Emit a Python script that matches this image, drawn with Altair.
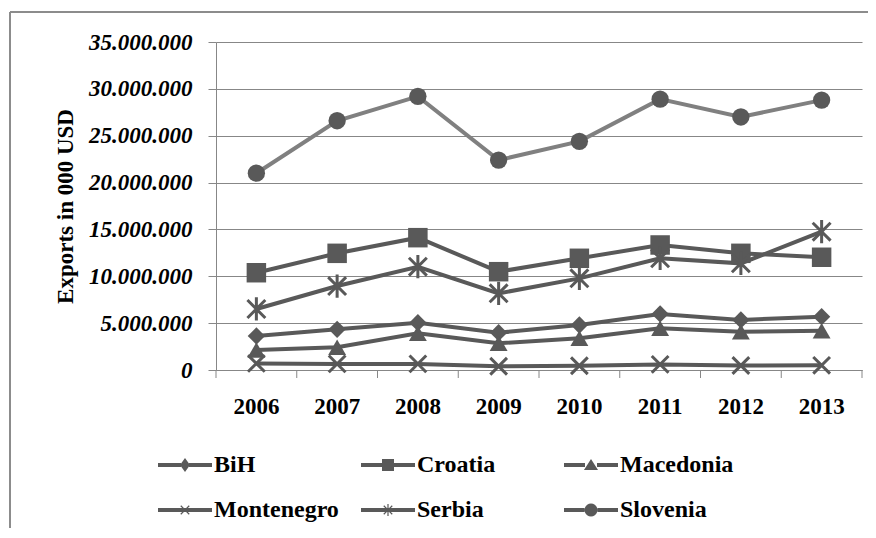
import math
import altair as alt
import pandas as pd

# ---------------- data (values in 000 USD) ----------------
years = ["2006", "2007", "2008", "2009", "2010", "2011", "2012", "2013"]
countries = ["BiH", "Croatia", "Macedonia", "Montenegro", "Serbia", "Slovenia"]
bih = [3630000, 4340000, 5050000, 3980000, 4800000, 5980000, 5340000, 5690000]
croatia = [10380000, 12450000, 14120000, 10490000, 11920000, 13340000, 12450000, 12030000]
macedonia = [2130000, 2420000, 3910000, 2850000, 3380000, 4450000, 4090000, 4200000]
montenegro = [700000, 650000, 650000, 400000, 450000, 600000, 480000, 500000]
serbia = [6510000, 8960000, 11020000, 8180000, 9780000, 11920000, 11380000, 14760000]
slovenia = [21000000, 26600000, 29200000, 22400000, 24400000, 28900000, 27000000, 28800000]
y_ticks = [0, 5000000, 10000000, 15000000, 20000000, 25000000, 30000000, 35000000]

series = [bih, croatia, macedonia, montenegro, serbia, slovenia]
rows = []
for name, vals in zip(countries, series):
    for yr, v in zip(years, vals):
        rows.append({"year": yr, "country": name, "value": v})
df = pd.DataFrame(rows)

# ---------------- styling ----------------
W, H = 646, 328
DARK = "#595959"
LIGHT = "#808080"
GRID = "#878787"
FONT = "Liberation Serif"

xscale = alt.Scale(type="band", domain=years, paddingInner=0, paddingOuter=0)
yscale = alt.Scale(domain=[0, 35000000])

x_enc = alt.X("year:O", scale=xscale,
              axis=alt.Axis(title=None, labelAngle=0, labelAlign="center", bandPosition=0.5,
                            labelFont=FONT, labelFontWeight="bold",
                            labelFontSize=23, labelColor="black", ticks=False, grid=False,
                            domainColor=GRID, domainWidth=1, labelPadding=25,
                            labelBaseline="top"))
y_enc = alt.Y("value:Q", scale=yscale,
              axis=alt.Axis(title="Exports in 000 USD", values=y_ticks,
                            labelExpr="replace(format(datum.value, ',d'), /,/g, '.')",
                            labelFont=FONT, labelFontWeight="bold", labelFontStyle="italic",
                            labelFontSize=23, labelColor="black", labelPadding=16,
                            tickSize=8, tickColor=GRID, tickWidth=1,
                            grid=True, gridColor=GRID, gridWidth=1,
                            domainColor=GRID, domainWidth=1,
                            titleFont=FONT, titleFontWeight="bold", titleFontSize=23,
                            titleColor="black", titlePadding=11))

line_colors = [DARK, DARK, DARK, DARK, DARK, LIGHT]

base = alt.Chart(df)

lines = base.mark_line(strokeWidth=4).encode(
    x=x_enc, y=y_enc,
    color=alt.Color("country:N", scale=alt.Scale(domain=countries, range=line_colors), legend=None),
)

marker_styles = {
    "BiH": dict(shape="diamond", size=300, filled=True),
    "Croatia": dict(shape="square", size=380, filled=True),
    "Macedonia": dict(shape="triangle-up", size=320, filled=True),
    "Montenegro": dict(shape="M-1,-1L1,1M-1,1L1,-1", size=280, filled=False, strokeWidth=3),
    "Serbia": dict(shape="M-1,-1L1,1M-1,1L1,-1M0,-1.3L0,1.3", size=320, filled=False, strokeWidth=3),
    "Slovenia": dict(shape="circle", size=300, filled=True),
}

marker_layers = []
for name in countries:
    st = marker_styles[name]
    marker_layers.append(
        base.transform_filter(alt.datum.country == name)
        .mark_point(color=DARK, opacity=1, **st)
        .encode(x="year:O", y="value:Q")
    )

# x-axis tick marks at category boundaries
tick_df = pd.DataFrame({"year": years})
xticks = alt.Chart(tick_df).mark_rule(color=GRID, strokeWidth=1).encode(
    x=alt.X("year:O", scale=xscale, bandPosition=0),
    y=alt.value(H), y2=alt.value(H + 8),
)
xtick_end = alt.Chart(tick_df.head(1)).mark_rule(color=GRID, strokeWidth=1).encode(
    x=alt.value(W), y=alt.value(H), y2=alt.value(H + 8),
)

# ---------------- legend symbols (line + marker paths) ----------------
S = 27.0  # px per unit for symbolSize 2916


def fmt(pts):
    return "M" + "L".join(f"{x / S:.4f},{y / S:.4f}" for x, y in pts) + "Z"


def rect(x1, y1, x2, y2):
    return fmt([(x1, y1), (x2, y1), (x2, y2), (x1, y2)])


def rot_rect(half_len, half_th, ang):
    c, s = math.cos(ang), math.sin(ang)
    pts = [(-half_len, -half_th), (half_len, -half_th), (half_len, half_th), (-half_len, half_th)]
    return fmt([(x * c - y * s, x * s + y * c) for x, y in pts])


def line_parts(m):
    return rect(-27, -2, -m, 2) + rect(m, -2, 27, 2)


def circle(r, n=20):
    return fmt([(r * math.cos(2 * math.pi * i / n), r * math.sin(2 * math.pi * i / n)) for i in range(n)])


legend_paths = [
    line_parts(4) + fmt([(0, -7), (5, 0), (0, 7), (-5, 0)]),
    line_parts(6) + rect(-6, -6, 6, 6),
    line_parts(6) + fmt([(0, -6), (7, 5), (-7, 5)]),
    rect(-27, -2, 27, 2) + rot_rect(6, 0.6, math.pi / 4) + rot_rect(6, 0.6, -math.pi / 4),
    rect(-27, -2, 27, 2) + rot_rect(6, 0.6, math.pi / 4) + rot_rect(6, 0.6, -math.pi / 4)
    + rect(-0.6, -6, 0.6, 6),
    line_parts(6.5) + circle(6.5),
]

legend_layer = base.transform_filter("false").mark_point(filled=True, color=DARK).encode(
    x="year:O", y="value:Q",
    shape=alt.Shape("country:N", scale=alt.Scale(domain=countries, range=legend_paths),
                    legend=alt.Legend(title=None, orient="none", legendX=-58, legendY=396,
                                      direction="horizontal",
                                      columns=3, gridAlign="all", columnPadding=22, rowPadding=6,
                                      symbolSize=2916, symbolFillColor=DARK, symbolOpacity=1,
                                      symbolStrokeWidth=0,
                                      labelFont=FONT, labelFontWeight="bold", labelFontSize=24,
                                      labelColor="black", labelOffset=2, padding=0,
                                      labelLimit=400)),
)

# outer frame: top and left edges
one = pd.DataFrame({"k": [0]})
frame_top = alt.Chart(one).mark_rule(color="#8c8c8c", strokeWidth=2).encode(
    x=alt.value(-206), x2=alt.value(W + 20), y=alt.value(-30))
frame_left = alt.Chart(one).mark_rule(color="#8c8c8c", strokeWidth=2).encode(
    x=alt.value(-206), y=alt.value(-30), y2=alt.value(H + 200))

chart = alt.layer(
    frame_top, frame_left, xticks, xtick_end, lines, *marker_layers, legend_layer
).resolve_scale(shape="independent").properties(
    width=W, height=H,
    padding={"left": 208, "top": 34, "right": 6, "bottom": 158},
    autosize=alt.AutoSizeParams(type="none"),
).configure_view(strokeWidth=0)

chart.save("out.html", embed_options={"renderer": "svg", "actions": False})
